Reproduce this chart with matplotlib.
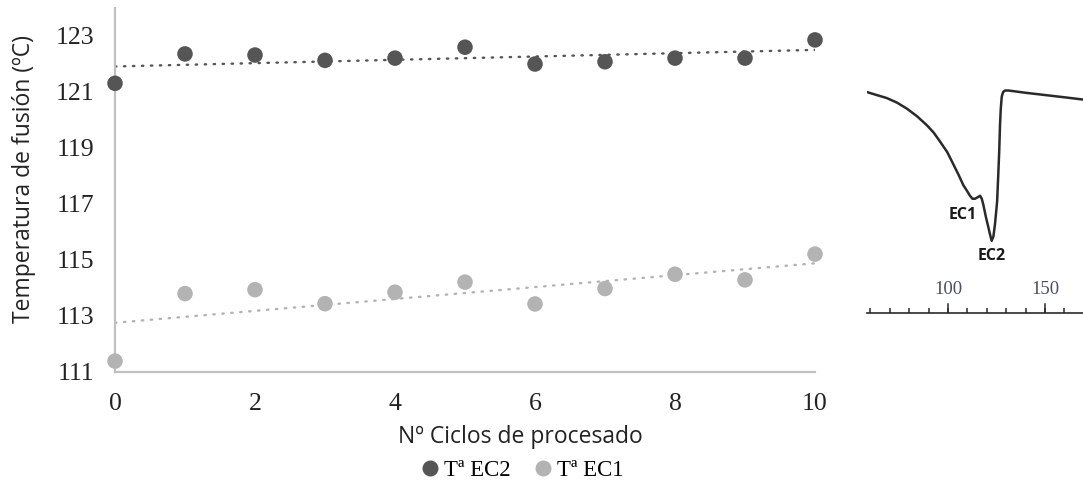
import numpy as np
import matplotlib.pyplot as plt
from matplotlib.lines import Line2D

# melting temperatures vs number of processing cycles
ciclos = [0, 1, 2, 3, 4, 5, 6, 7, 8, 9, 10]
t_ec2 = [121.31, 122.36, 122.32, 122.13, 122.21, 122.60, 122.00, 122.08, 122.21, 122.21, 122.86]
t_ec1 = [111.39, 113.80, 113.94, 113.44, 113.85, 114.21, 113.43, 113.98, 114.49, 114.29, 115.21]
y_ticks = [111, 113, 115, 117, 119, 121, 123]
x_ticks = [0, 2, 4, 6, 8, 10]

# DSC thermogram sketch (temperature, normalised heat flow)
dsc_temp = [58.1, 63.2, 68.4, 73.6, 78.7, 83.9, 89.0, 92.6, 95.9, 99.6, 102.7, 105.4,
            107.9, 109.9, 111.3, 112.6, 113.9, 115.3, 116.5, 117.4, 118.2, 119.5,
            120.8, 121.7, 122.5, 123.4, 124.2, 125.3, 125.9, 126.4, 126.8, 127.2,
            127.7, 128.4, 129.4, 131.2, 140.0, 150.0, 160.0, 169.6]
dsc_flow = [-0.01, -0.03, -0.05, -0.08, -0.12, -0.17, -0.23, -0.28, -0.34, -0.41,
            -0.49, -0.56, -0.63, -0.67, -0.70, -0.72, -0.72, -0.71, -0.70, -0.72,
            -0.76, -0.84, -0.91, -0.96, -1.00, -0.97, -0.89, -0.74, -0.56, -0.40,
            -0.23, -0.12, -0.04, -0.01, 0.00, 0.00, -0.015, -0.03, -0.045, -0.06]
dsc_ticks = [60, 70, 80, 90, 100, 110, 120, 130, 140, 150, 160]
dsc_labels = [100, 150]

dark = '#555555'
light = '#b3b3b3'
axis_gray = '#c0c0c0'
serif = ['Liberation Serif', 'DejaVu Serif']
sans = ['Open Sans', 'DejaVu Sans']

fig = plt.figure(figsize=(10.83, 4.83), dpi=100)
ax = fig.add_axes([115 / 1083, 1 - 372 / 483, 700 / 1083, 364 / 483])

x = np.array(ciclos)
for vals, col in [(t_ec2, dark), (t_ec1, light)]:
    m, b = np.polyfit(x, vals, 1)
    ax.plot(x, m * x + b, color=col, lw=1.7, linestyle=(0, (0.6, 3.2)),
            dash_capstyle='round', zorder=2)
    ax.scatter(x, vals, s=125, color=col, edgecolors='none', zorder=3, clip_on=False)

ax.set_xlim(0, 10)
ax.set_ylim(111, 124)
ax.set_xticks(x_ticks)
ax.set_yticks(y_ticks)
for s in ['top', 'right']:
    ax.spines[s].set_visible(False)
for s in ['left', 'bottom']:
    ax.spines[s].set_color(axis_gray)
    ax.spines[s].set_linewidth(1.6)
ax.tick_params(length=0, labelsize=18.5, colors='#222222', pad=15)
for lab in ax.get_xticklabels() + ax.get_yticklabels():
    lab.set_family(serif)
ax.set_ylabel('Temperatura de fusión (ºC)', family=sans, fontsize=16.5, color='#222222')
ax.yaxis.set_label_coords((36 - 115) / 700, 0.53)
ax.set_xlabel('Nº Ciclos de procesado', family=sans, fontsize=16.5, color='#222222')
ax.xaxis.set_label_coords((520 - 115) / 700, (372 - 425) / 364)

handles = [Line2D([], [], ls='none', marker='o', ms=11.5, color=dark, markeredgewidth=0),
           Line2D([], [], ls='none', marker='o', ms=11.5, color=light, markeredgewidth=0)]
fig.legend(handles, ['Tª EC2', 'Tª EC1'], loc='center', bbox_to_anchor=(521 / 1083, 1 - 470 / 483),
           ncol=2, frameon=False, handletextpad=0.1, columnspacing=0.9, handlelength=1.0,
           prop={'family': serif, 'size': 16.5})

# thermogram inset on the right
ax2 = fig.add_axes([867 / 1083, 1 - 313 / 483, 216 / 1083, 233 / 483])
ax2.plot(dsc_temp, dsc_flow, color='#2a2a2a', lw=1.8, solid_joinstyle='round')
ax2.set_xlim(58.2, 169.6)
ax2.set_ylim(-1.48, 0.07)
for s in ['top', 'right', 'left']:
    ax2.spines[s].set_visible(False)
ax2.spines['bottom'].set_color('#2a2a2a')
ax2.spines['bottom'].set_linewidth(1.2)
ax2.set_yticks([])
ax2.set_xticks(dsc_ticks)
ax2.set_xticklabels(['' for t in dsc_ticks])
ax2.tick_params(axis='x', direction='in', length=3.5, width=1.1, color='#2a2a2a')
for t in dsc_labels:
    ax2.text(t, 0.065, str(t), transform=ax2.get_xaxis_transform(), ha='center', va='bottom',
             family=serif, fontsize=13.5, color='#4a4f63')
    ax2.plot([t, t], [0, 0.04], transform=ax2.get_xaxis_transform(), color='#2a2a2a', lw=1.1)
ax2.text(107.7, -0.83, 'EC1', ha='center', va='center', fontsize=11.5, fontweight='bold',
         color='#1a1a1a', family=sans)
ax2.text(122.7, -1.10, 'EC2', ha='center', va='center', fontsize=11.5, fontweight='bold',
         color='#1a1a1a', family=sans)

fig.savefig('out.png', dpi=100)
